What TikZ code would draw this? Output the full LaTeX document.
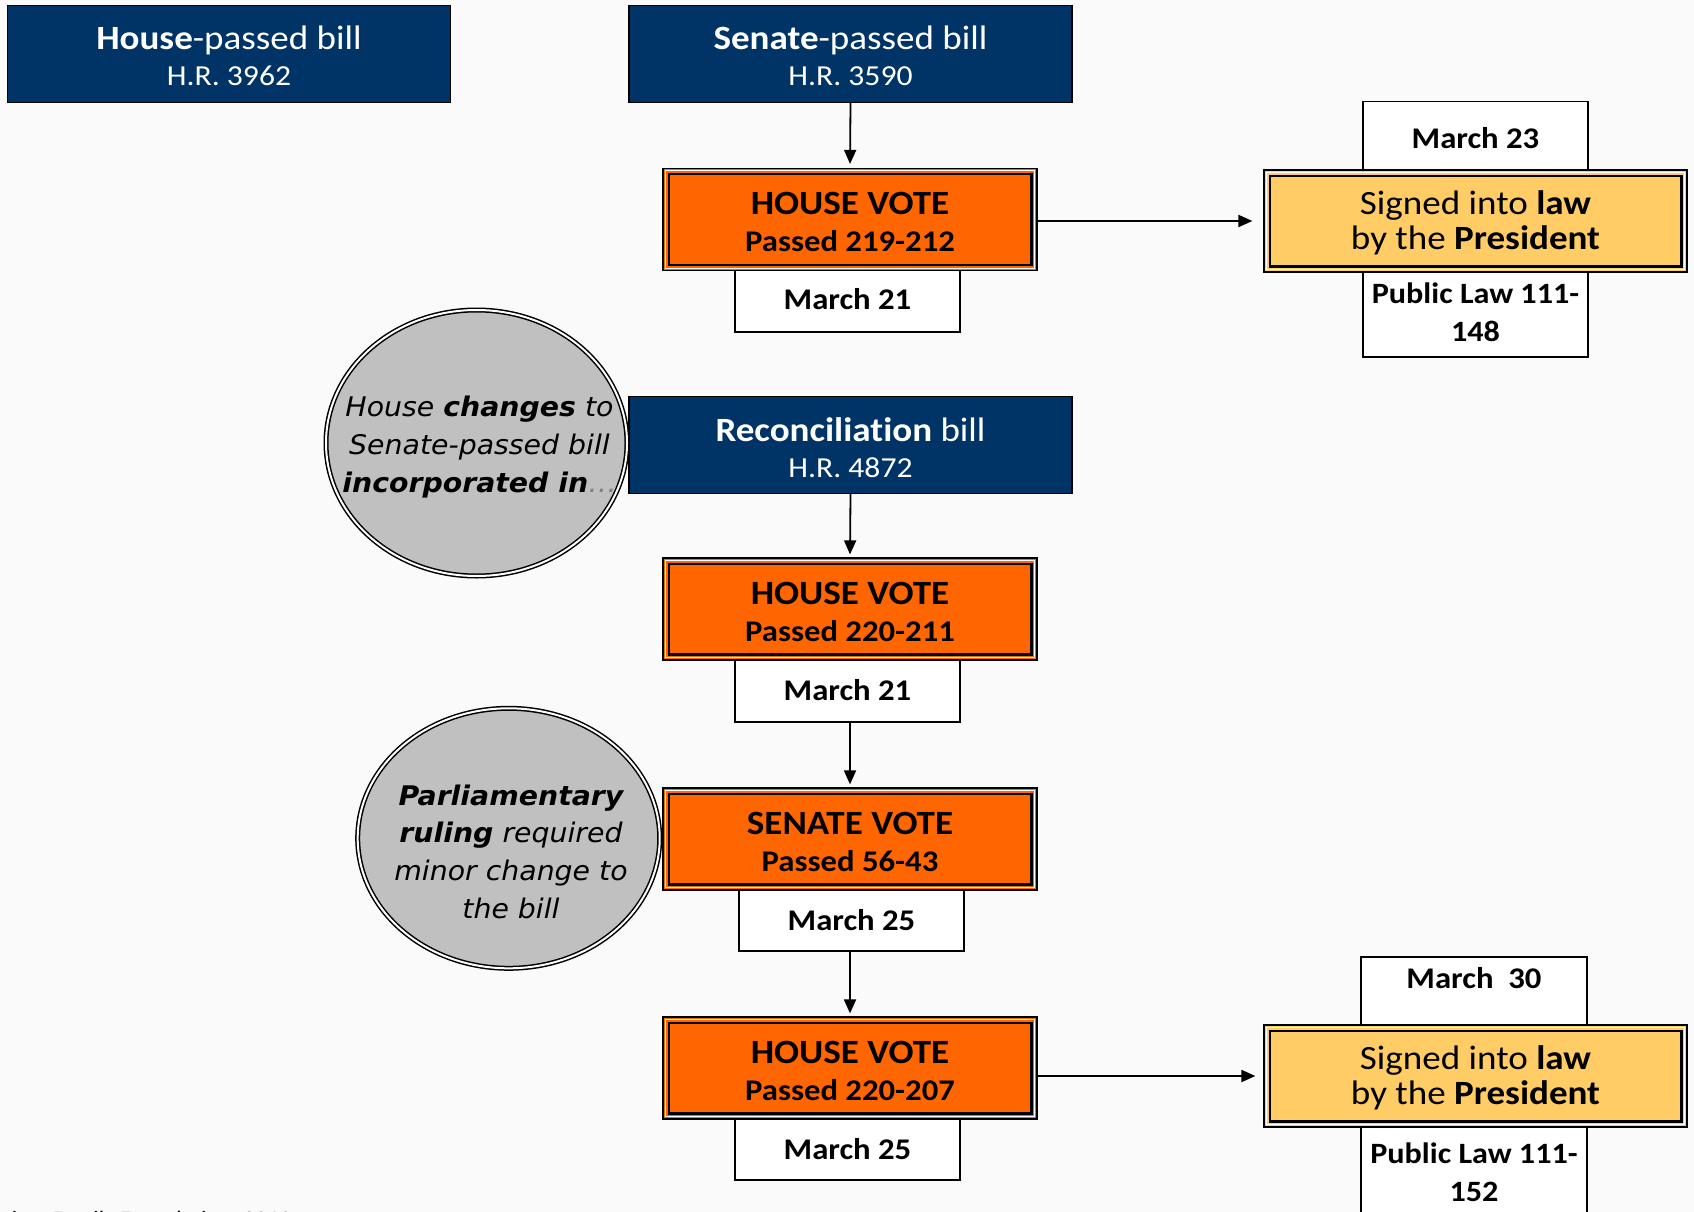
\documentclass[tikz,border=0pt]{standalone}
\usepackage{fontspec}
\setmainfont{Carlito}[FakeStretch=1.09, Ligatures=NoCommon]
\newfontfamily\ellfont{DejaVu Sans}[FakeStretch=1.05]
\usetikzlibrary{arrows.meta,shapes.geometric}
\definecolor{navy}{RGB}{0,51,102}
\definecolor{vorange}{RGB}{255,102,0}
\definecolor{lyellow}{RGB}{255,204,102}
\definecolor{egray}{RGB}{192,192,192}
\definecolor{bgcol}{RGB}{250,250,250}
\newcommand\myfs[2]{\fontsize{#1}{#2}\selectfont}
\newcommand\topstrut[1]{\rule{0pt}{#1pt}}
\tikzset{
  billbox/.style={draw=black, line width=1.2, fill=navy, text=white, minimum width=443,
    minimum height=97, align=center, inner sep=0, font=\myfs{34}{36}},
  framed/.style={path picture={
    \draw[white, line width=1] ([shift={(2.2pt,-2.2pt)}]path picture bounding box.north west)
      rectangle ([shift={(-2.2pt,2.2pt)}]path picture bounding box.south east);
    \draw[black, line width=2.2] ([shift={(5.6pt,-5.6pt)}]path picture bounding box.north west)
      rectangle ([shift={(-5.6pt,5.6pt)}]path picture bounding box.south east);}},
  votebox/.style={draw=black, line width=1.2, fill=vorange, minimum width=374, minimum height=102,
    align=center, inner sep=0, framed, font=\bfseries\myfs{34}{37}},
  signbox/.style={draw=black, line width=1.2, fill=lyellow, minimum width=423, minimum height=102,
    align=center, inner sep=0, framed, font=\myfs{34}{35}},
  datebox/.style={draw=black, line width=1.5, fill=white, minimum width=225, align=center,
    inner sep=0, font=\bfseries\myfs{30}{37}},
  ellbox/.style={ellipse, draw=black, line width=1.5, double=white, double distance=2,
    fill=egray, inner sep=0},
  elltext/.style={align=center, inner sep=0, font=\ellfont\itshape\myfs{27}{37.7}},
  arr/.style={line width=1.8, -{Triangle[length=14pt,width=12pt]}}
}
\begin{document}
\begin{tikzpicture}[x=1pt,y=-1pt]
\useasboundingbox (0,0) rectangle (1694,1212);
\clip (0,0) rectangle (1694,1212);
\fill[bgcol] (0,0) rectangle (1694,1212);

% top bills
\node[billbox] (house) at (229,54) {\topstrut{28}\textbf{House}-passed bill\\\myfs{29}{36}H.R. 3962};
\node[billbox] (senate) at (850.5,54) {\topstrut{28}\textbf{Senate}-passed bill\\\myfs{29}{36}H.R. 3590};

% first house vote
\node[datebox, minimum height=70] (d1) at (847.5,297) {\topstrut{25}March 21};
\node[votebox] (v1) at (850,219.5) {\topstrut{28}HOUSE VOTE\\\myfs{30}{37}Passed 219-212};

% first signing
\node[datebox, minimum height=73] (m23) at (1475.5,138) {March 23};
\node[datebox, minimum height=90, font=\bfseries\myfs{29.5}{38}] (pl1) at (1475.5,312) {Public Law 111-\\148};
\node[signbox] (sg1) at (1475.5,221) {\topstrut{28}Signed into \textbf{law}\\by the \textbf{President}};

% reconciliation
\node[billbox] (recon) at (850.5,445) {\topstrut{30}\textbf{Reconciliation} bill\\\myfs{29}{36}H.R. 4872};
\node[ellbox, minimum width=301, minimum height=266] (e1) at (476.5,443) {};
\node[elltext] (e1t) at (479.5,447) {House \textbf{changes} to\\Senate-passed bill\\\textbf{incorporated in}\textcolor{gray}{…}};

\node[datebox, minimum height=67] (d2) at (847.5,688.5) {\topstrut{25}March 21};
\node[votebox] (v2) at (850,609) {\topstrut{28}HOUSE VOTE\\\myfs{30}{37}Passed 220-211};

\node[ellbox, minimum width=302, minimum height=260] (e2) at (508.7,838.3) {};
\node[elltext] (e2t) at (511,851.5) {\textbf{Parliamentary}\\\textbf{ruling} required\\minor change to\\the bill};

\node[datebox, minimum height=66] (d3) at (851.5,918) {\topstrut{25}March 25};
\node[votebox] (v3) at (850,839) {\topstrut{28}SENATE VOTE\\\myfs{30}{37}Passed 56-43};

\node[datebox, minimum height=66] (d4) at (847.5,1147) {\topstrut{25}March 25};
\node[votebox] (v4) at (850,1068) {\topstrut{28}HOUSE VOTE\\\myfs{30}{37}Passed 220-207};

% second signing
\node[datebox, minimum width=226, minimum height=73] (m30) at (1474,993.5) {};
\node[inner sep=0, font=\bfseries\myfs{30}{37}] (m30t) at (1474,978) {March~ 30};
\node[datebox, minimum width=226, minimum height=100, font=\bfseries\myfs{29.5}{38}] (pl2) at (1474,1172) {Public Law 111-\\152};
\node[signbox] (sg2) at (1475.5,1076) {\topstrut{28}Signed into \textbf{law}\\by the \textbf{President}};

% source line (cut off at the lower edge, as in the original)
\node[anchor=base west, inner sep=0, font=\myfs{22}{26}] (src) at (-12,1226) {Kaiser Family Foundation, 2010};

% connectors
\draw[arr, shorten >=4] (senate.south) -- (v1.north);
\draw[arr, shorten >=11] (v1.east |- sg1.west) -- (sg1.west);
\draw[arr, shorten >=3] (recon.south) -- (v2.north);
\draw[arr, shorten >=3] (v3.north |- d2.south) -- (v3.north);
\draw[arr, shorten >=3] (v4.north |- d3.south) -- (v4.north);
\draw[arr, shorten >=8] (v4.east |- sg2.west) -- (sg2.west);
\end{tikzpicture}
\end{document}
